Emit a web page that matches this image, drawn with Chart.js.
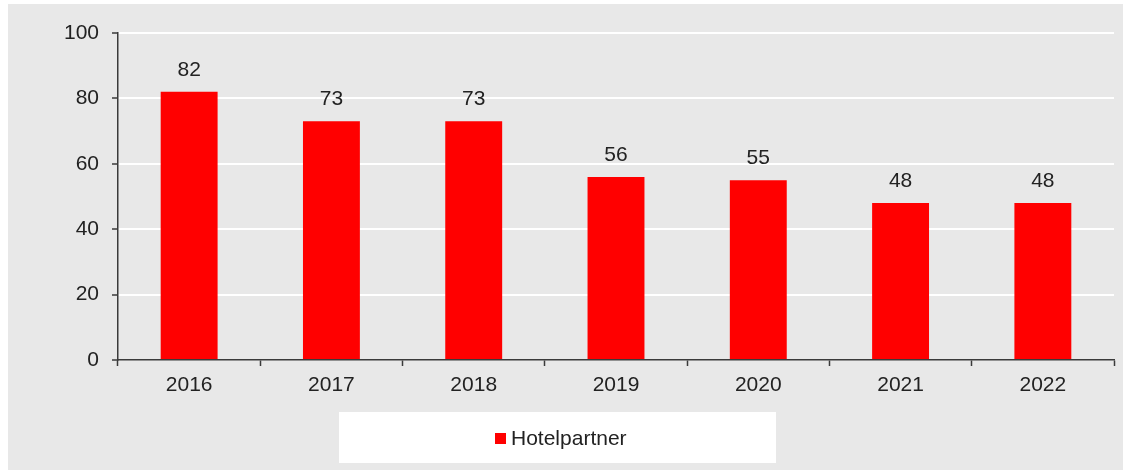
<!DOCTYPE html>
<html>
<head>
<meta charset="utf-8">
<script src="https://cdn.jsdelivr.net/npm/chart.js@4.4.1/dist/chart.umd.min.js"></script>
<style>
  html, body { margin: 0; padding: 0; background: #ffffff; }
  #wrap { width: 1123px; height: 470px; }
</style>
</head>
<body>
<div id="wrap"><canvas id="hotelChart" width="1123" height="470"></canvas></div>
<script>
// Daten
const jahre = ['2016', '2017', '2018', '2019', '2020', '2021', '2022'];
const hotelpartner = [82, 73, 73, 56, 55, 48, 48];
const yTicks = [0, 20, 40, 60, 80, 100];

const textFarbe = '#222222';
const achsenFarbe = '#3a3a3a';
const schrift = { family: 'Liberation Sans, Arial, sans-serif', size: 21 };

// grauer Hintergrund, Legendenkasten und Wertebeschriftung
const zeichenPlugin = {
    id: 'zeichenPlugin',
    beforeDraw(chart) {
        const ctx = chart.ctx;
        ctx.save();
        ctx.fillStyle = '#e8e8e8';
        ctx.fillRect(8, 4, chart.width - 8, chart.height - 4);

        // Legende unten
        ctx.fillStyle = '#ffffff';
        ctx.fillRect(339, 412, 437, 51);
        const ds = chart.data.datasets[0];
        ctx.fillStyle = ds.backgroundColor;
        ctx.fillRect(495, 433, 11, 11);
        ctx.fillStyle = textFarbe;
        ctx.font = schrift.size + 'px ' + schrift.family;
        ctx.textAlign = 'left';
        ctx.textBaseline = 'middle';
        ctx.fillText(ds.label, 511, 439);
        ctx.restore();
    },
    afterDatasetsDraw(chart) {
        const ctx = chart.ctx;
        const meta = chart.getDatasetMeta(0);
        ctx.save();
        ctx.fillStyle = textFarbe;
        ctx.font = schrift.size + 'px ' + schrift.family;
        ctx.textAlign = 'center';
        ctx.textBaseline = 'alphabetic';
        meta.data.forEach((bar, i) => {
            ctx.fillText(String(hotelpartner[i]), bar.x, bar.y - 16);
        });
        ctx.restore();
    }
};

const ctx = document.getElementById('hotelChart').getContext('2d');
const chart = new Chart(ctx, {
    type: 'bar',
    data: {
        labels: jahre,
        datasets: [{
            label: 'Hotelpartner',
            data: hotelpartner,
            backgroundColor: '#ff0000',
            borderWidth: 0,
            barPercentage: 0.4,
            categoryPercentage: 1.0
        }]
    },
    options: {
        responsive: false,
        animation: false,
        devicePixelRatio: 1,
        layout: { padding: { left: 0, right: 9, top: 33, bottom: 0 } },
        plugins: {
            legend: { display: false },
            tooltip: { enabled: false }
        },
        scales: {
            x: {
                afterFit(scale) { scale.height = 110; },
                grid: {
                    offset: true,
                    drawOnChartArea: false,
                    drawTicks: true,
                    tickLength: 6,
                    tickColor: achsenFarbe,
                    tickWidth: 1.5
                },
                border: { display: true, color: achsenFarbe, width: 1.5 },
                ticks: { color: textFarbe, font: schrift, padding: 7 }
            },
            y: {
                min: 0,
                max: 100,
                afterFit(scale) { scale.width = 118; },
                afterBuildTicks(scale) {
                    scale.ticks = yTicks.map(v => ({ value: v }));
                },
                grid: {
                    color: (c) => c.tick && c.tick.value === 0 ? 'rgba(0,0,0,0)' : '#ffffff',
                    lineWidth: 2,
                    drawTicks: true,
                    tickLength: 6,
                    tickColor: achsenFarbe,
                    tickWidth: 1.5
                },
                border: { display: true, color: achsenFarbe, width: 1.5 },
                ticks: { color: textFarbe, font: schrift, padding: 13 }
            }
        }
    },
    plugins: [zeichenPlugin]
});
</script>
</body>
</html>
